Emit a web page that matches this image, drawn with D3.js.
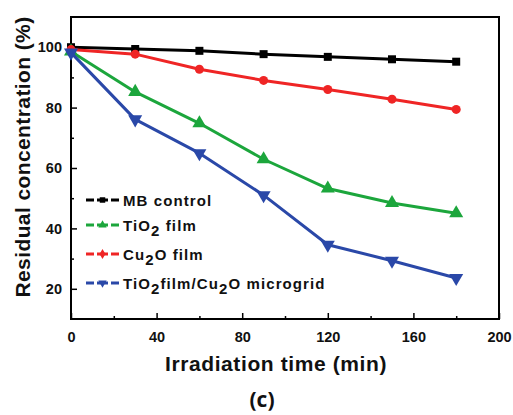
<!DOCTYPE html>
<html>
<head>
<meta charset="utf-8">
<script src="https://cdn.jsdelivr.net/npm/d3@7"></script>
<style>
  body { margin: 0; background: #fff; }
  svg { display: block; font-family: "Liberation Sans", Arial, sans-serif; }
</style>
</head>
<body>
<div id="chart"></div>
<script>
// irradiation time (min)
const times = [0, 30, 60, 90, 120, 150, 180];

const mbControl = [100, 99.4, 98.8, 97.7, 96.8, 96.0, 95.2];
const cu2oFilm = [99.2, 97.7, 92.7, 89.0, 86.0, 82.8, 79.4];
const tio2Film = [98.6, 85.2, 74.8, 62.9, 53.2, 48.4, 45.0];
const microgrid = [98.2, 76.1, 64.9, 51.0, 34.6, 29.3, 23.6];

const xTicks = [0, 40, 80, 120, 160, 200];
const yTicks = [20, 40, 60, 80, 100];

const series = [
  { name: 'MB control', values: mbControl, color: '#000000', symbol: 'square', legend: 'MB control' },
  { name: 'TiO2 film', values: tio2Film, color: '#1ca63c', symbol: 'up', legend: [['Ti', 0], ['O', 0], ['2', 1], [' film', 0]] },
  { name: 'Cu2O film', values: cu2oFilm, color: '#ef2525', symbol: 'circle', legend: [['Cu', 0], ['2', 1], ['O film', 0]] },
  { name: 'TiO2film/Cu2O microgrid', values: microgrid, color: '#2a48a8', symbol: 'down', legend: [['TiO', 0], ['2', 1], ['film/Cu', 0], ['2', 1], ['O microgrid', 0]] }
];

const width = 513, height = 415;
const margin = { top: 17, right: 14, bottom: 96, left: 71 };

const svg = d3.select('#chart').append('svg')
  .attr('width', width)
  .attr('height', height);

const x = d3.scaleLinear()
  .domain([0, 200])
  .range([margin.left, width - margin.right]);

const y = d3.scaleLinear()
  .domain([10, 110])
  .range([height - margin.bottom, margin.top]);

// frame
svg.append('rect')
  .attr('x', x(0))
  .attr('y', y(110))
  .attr('width', x(200) - x(0))
  .attr('height', y(10) - y(110))
  .attr('fill', 'none')
  .attr('stroke', '#000')
  .attr('stroke-width', 2);

// axes, ticks inward
const xAxis = g => g
  .attr('transform', `translate(0,${y(10)})`)
  .call(d3.axisBottom(x).tickValues(xTicks).tickSize(-6).tickPadding(13).tickFormat(d3.format('d')))
  .call(g => g.select('.domain').remove())
  .call(g => g.selectAll('.tick line').attr('stroke-width', 1.5))
  .call(g => g.selectAll('.tick text')
      .attr('font-size', 14.5).attr('font-weight', 'bold').attr('fill', '#111'));

const xMinor = g => g
  .attr('transform', `translate(0,${y(10)})`)
  .call(d3.axisBottom(x).tickValues([20, 60, 100, 140, 180]).tickSize(-3).tickFormat(''))
  .call(g => g.select('.domain').remove())
  .call(g => g.selectAll('.tick line').attr('stroke-width', 1.5));

const yAxis = g => g
  .attr('transform', `translate(${x(0)},0)`)
  .call(d3.axisLeft(y).tickValues(yTicks).tickSize(-6).tickPadding(9).tickFormat(d3.format('d')))
  .call(g => g.select('.domain').remove())
  .call(g => g.selectAll('.tick line').attr('stroke-width', 1.5))
  .call(g => g.selectAll('.tick text')
      .attr('font-size', 14.5).attr('font-weight', 'bold').attr('fill', '#111'));

const yMinor = g => g
  .attr('transform', `translate(${x(0)},0)`)
  .call(d3.axisLeft(y).tickValues([30, 50, 70, 90]).tickSize(-3).tickFormat(''))
  .call(g => g.select('.domain').remove())
  .call(g => g.selectAll('.tick line').attr('stroke-width', 1.5));

svg.append('g').call(xAxis);
svg.append('g').call(xMinor);
svg.append('g').call(yAxis);
svg.append('g').call(yMinor);

// axis titles
svg.append('text')
  .attr('x', 276)
  .attr('y', 371)
  .attr('text-anchor', 'middle')
  .attr('font-size', 21)
  .attr('font-weight', 'bold')
  .attr('letter-spacing', 0.6)
  .attr('fill', '#111')
  .text('Irradiation time (min)');

svg.append('text')
  .attr('transform', `translate(30,157) rotate(-90)`)
  .attr('text-anchor', 'middle')
  .attr('font-size', 21)
  .attr('font-weight', 'bold')
  .attr('letter-spacing', 0.4)
  .attr('fill', '#111')
  .text('Residual concentration (%)');

svg.append('text')
  .attr('x', 262)
  .attr('y', 407)
  .attr('text-anchor', 'middle')
  .attr('font-size', 21)
  .attr('font-weight', 'bold')
  .attr('font-family', '"Open Sans", sans-serif')
  .attr('fill', '#111')
  .text('(c)');

// markers
const symbolOf = {
  square: d3.symbol().type(d3.symbolSquare).size(64),
  circle: d3.symbol().type(d3.symbolCircle).size(64),
  up: d3.symbol().type(d3.symbolTriangle).size(85),
  down: d3.symbol().type(d3.symbolTriangle).size(85)
};

const line = d3.line()
  .x((d, i) => x(times[i]))
  .y(d => y(d));

series.forEach(s => {
  svg.append('path')
    .datum(s.values)
    .attr('fill', 'none')
    .attr('stroke', s.color)
    .attr('stroke-width', 3)
    .attr('stroke-linejoin', 'round')
    .attr('d', line);

  svg.append('g')
    .selectAll('path')
    .data(s.values)
    .join('path')
      .attr('d', symbolOf[s.symbol])
      .attr('fill', s.color)
      .attr('transform', (d, i) =>
        `translate(${x(times[i])},${y(d)})` + (s.symbol === 'down' ? ' rotate(180)' : ''));
});

// legend
const legendRows = [200, 225, 254, 283];
series.forEach((s, i) => {
  const g = svg.append('g').attr('transform', `translate(86,${legendRows[i]})`);
  g.append('line')
    .attr('x1', 0).attr('x2', 33)
    .attr('stroke', s.color)
    .attr('stroke-width', 3)
    .attr('stroke-dasharray', '8,3,11,3,8');
  g.append('path')
    .attr('d', d3.symbol().type(s.symbol === 'square' ? d3.symbolSquare :
        s.symbol === 'circle' ? d3.symbolDiamond : d3.symbolTriangle).size(30))
    .attr('fill', s.color)
    .attr('transform', 'translate(16.5,0)' + (s.symbol === 'down' ? ' rotate(180)' : ''));

  const t = g.append('text')
    .attr('x', 37)
    .attr('y', 5.5)
    .attr('font-size', 15)
    .attr('font-weight', 'bold')
    .attr('letter-spacing', 1.1)
    .attr('fill', '#111');
  if (typeof s.legend === 'string') {
    t.text(s.legend);
  } else {
    s.legend.forEach(([str, sub]) => {
      t.append('tspan')
        .attr('baseline-shift', sub ? '-30%' : null)
        .text(str);
    });
  }
});
</script>
</body>
</html>
